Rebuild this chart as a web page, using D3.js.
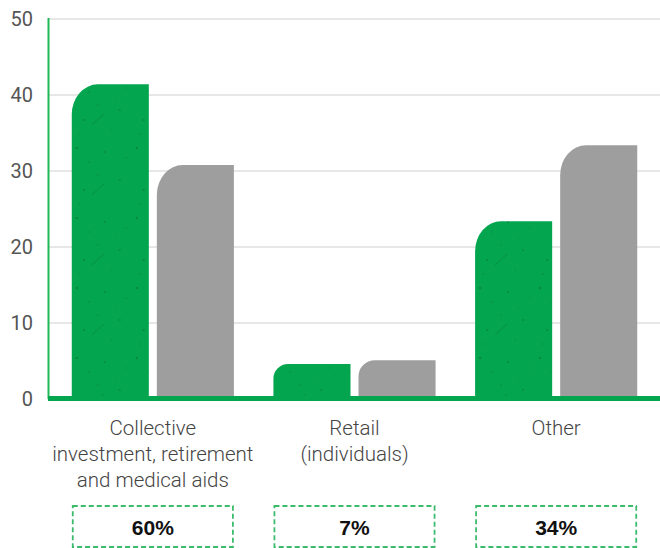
<!DOCTYPE html>
<html>
<head>
<meta charset="utf-8">
<script src="https://cdn.jsdelivr.net/npm/d3@7"></script>
<style>
  html, body { margin: 0; padding: 0; background: #fff; }
  svg { display: block; }
</style>
</head>
<body>
<svg id="chart" width="660" height="548"></svg>
<script>
const categories = ["cat1", "cat2", "cat3"];
const categoryLabels = [
  ["Collective", "investment, retirement", "and medical aids"],
  ["Retail", "(individuals)"],
  ["Other"]
];
const series = ["green", "grey"];
const greenValues = [41.4, 4.6, 23.4];
const greyValues = [30.8, 5.1, 33.4];
const shareLabels = ["60%", "7%", "34%"];
const yTicks = [0, 10, 20, 30, 40, 50];

const svg = d3.select("#chart");
const W = 660;
const y = d3.scaleLinear().domain([0, 50]).range([399, 19]);
const x0 = d3.scaleBand().domain(categories).range([52, 657]).paddingInner(0.196).paddingOuter(0.098);
const x1 = d3.scaleBand().domain(series).range([0, x0.bandwidth()]).paddingInner(0.094);
const colors = { green: "#03a64f", grey: "#9d9e9d" };

// texture pattern for green bars
const defs = svg.append("defs");
const pat = defs.append("pattern").attr("id", "tex").attr("patternUnits", "userSpaceOnUse")
  .attr("width", 60).attr("height", 70);
pat.append("rect").attr("width", 60).attr("height", 70).attr("fill", colors.green);
const specks = [[5,8,1.2],[17,22,0.8],[33,12,1],[48,40,0.9],[12,50,1.1],[40,60,0.7],[26,35,0.8],[55,18,0.7],[8,64,0.8],[44,28,0.6]];
pat.selectAll("circle").data(specks).join("circle")
  .attr("cx", d => d[0]).attr("cy", d => d[1]).attr("r", d => d[2]).attr("fill", "#0a7a3a").attr("opacity", 0.7);
pat.append("path").attr("d", "M20,55 L32,44").attr("stroke", "#0a7a3a").attr("stroke-width", 1).attr("opacity", 0.6);

// gridlines
svg.append("g").selectAll("line").data(yTicks.filter(t => t > 0)).join("line")
  .attr("x1", 49).attr("x2", W).attr("y1", d => y(d)).attr("y2", d => y(d))
  .attr("stroke", "#cfcfcf").attr("stroke-width", 1);

// y axis line
svg.append("line").attr("x1", 48.5).attr("x2", 48.5).attr("y1", y(50) - 1).attr("y2", y(0))
  .attr("stroke", "#1db954").attr("stroke-width", 2);

// y tick labels
svg.append("g").selectAll("text").data(yTicks).join("text")
  .attr("x", 33).attr("y", d => y(d)).attr("dy", "0.36em").attr("text-anchor", "end")
  .attr("font-family", "Roboto, 'Liberation Sans', sans-serif").attr("font-size", 20)
  .attr("fill", "#555").text(d => d);

function barPath(x, w, top, bottom) {
  const h = bottom - top;
  const rx = Math.min(26, h * 0.42);
  const ry = Math.min(30, h * 0.42);
  return `M${x},${bottom} L${x},${top + ry} A${rx},${ry} 0 0 1 ${x + rx},${top} L${x + w},${top} L${x + w},${bottom} Z`;
}

const data = categories.map((c, i) => ({ cat: c, vals: [
  { s: "green", v: greenValues[i] }, { s: "grey", v: greyValues[i] } ] }));

const groups = svg.append("g").selectAll("g").data(data).join("g")
  .attr("transform", d => `translate(${x0(d.cat)},0)`);
groups.selectAll("path").data(d => d.vals).join("path")
  .attr("d", d => barPath(x1(d.s), x1.bandwidth(), y(d.v), y(0)))
  .attr("fill", d => d.s === "green" ? "url(#tex)" : colors.grey);

// baseline
svg.append("rect").attr("x", 48).attr("y", y(0) - 3).attr("width", W - 48).attr("height", 5)
  .attr("fill", colors.green);

// category labels
const lab = svg.append("g").selectAll("text").data(categories).join("text")
  .attr("x", d => x0(d) + x0.bandwidth() / 2).attr("y", 435)
  .attr("text-anchor", "middle")
  .attr("font-family", "Roboto, 'Liberation Sans', sans-serif").attr("font-weight", 300)
  .attr("font-size", 20.5).attr("fill", "#444");
lab.each(function(d, i) {
  d3.select(this).selectAll("tspan").data(categoryLabels[i]).join("tspan")
    .attr("x", x0(d) + x0.bandwidth() / 2).attr("dy", (t, j) => j === 0 ? 0 : 26).text(t => t);
});

// share boxes
const box = svg.append("g").selectAll("g").data(categories).join("g");
box.append("rect")
  .attr("x", d => x0(d) + 1).attr("y", 506).attr("width", x0.bandwidth() - 2).attr("height", 41)
  .attr("fill", "none").attr("stroke", "#3cbb6c").attr("stroke-width", 1.8).attr("stroke-dasharray", "5,3");
box.append("text")
  .attr("x", d => x0(d) + x0.bandwidth() / 2).attr("y", 527).attr("dy", "0.36em")
  .attr("text-anchor", "middle").attr("font-family", "'Liberation Sans', Arial, sans-serif")
  .attr("font-weight", "bold").attr("font-size", 21).attr("fill", "#111")
  .text((d, i) => shareLabels[i]);
</script>
</body>
</html>
